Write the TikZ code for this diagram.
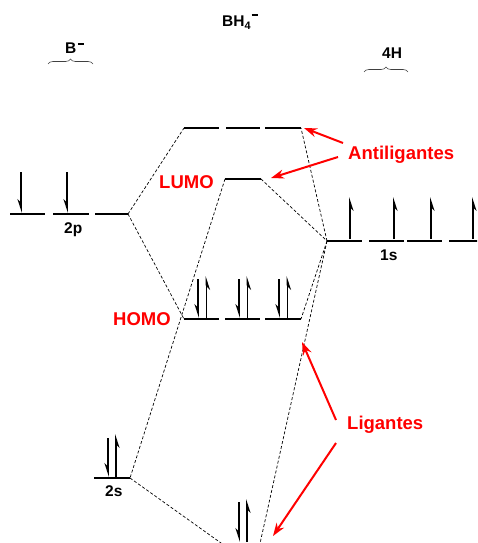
\documentclass[tikz,border=0pt]{standalone}
\usepackage{fontspec}
\setmainfont{Liberation Sans}
\usetikzlibrary{arrows.meta,decorations.pathreplacing}
\definecolor{lblred}{RGB}{255,0,0}
\newcommand{\chgminus}[1]{\raisebox{#1}{\rule{6.5pt}{1.7pt}}}
\begin{document}
\begin{tikzpicture}[x=1pt,y=-1pt,
  lvl/.style={line width=2.8pt},
  conn/.style={line width=0.7pt,dash pattern=on 3pt off 2pt},
  elec/.style={line width=1.8pt,-{Stealth[harpoon,swap,length=11pt,width=7pt]}},
  redarr/.style={lblred,line width=2pt,-{Stealth[length=13pt,width=9pt]}},
  blk/.style={font=\fontsize{15.5}{16}\selectfont\bfseries,inner sep=0pt,anchor=base west},
  redlbl/.style={font=\fontsize{18.5}{19}\selectfont\bfseries,text=lblred,inner sep=0pt,anchor=base west},
  brc/.style={decorate,decoration={brace,amplitude=5pt},line width=0.6pt,black!75}
]
\useasboundingbox (0,0) rectangle (477,543);
\clip (0,0) rectangle (477,543);

% ---- level end points
\coordinate (p1a) at (10,214);  \coordinate (p1b) at (45,214);
\coordinate (p2a) at (53,214);  \coordinate (p2b) at (89,214);
\coordinate (p3a) at (95,214);  \coordinate (p3b) at (128,214);
\coordinate (a1a) at (184,128); \coordinate (a1b) at (219,128);
\coordinate (a2a) at (226,128); \coordinate (a2b) at (260,128);
\coordinate (a3a) at (265,128); \coordinate (a3b) at (301,128);
\coordinate (la)  at (225,179); \coordinate (lb)  at (261,179);
\coordinate (s1a) at (327,241); \coordinate (s1b) at (362,241);
\coordinate (s2a) at (369,241); \coordinate (s2b) at (404,241);
\coordinate (s3a) at (407,241); \coordinate (s3b) at (442,241);
\coordinate (s4a) at (449,241); \coordinate (s4b) at (478,241);
\coordinate (h1a) at (184,319); \coordinate (h1b) at (219,319);
\coordinate (h2a) at (225,319); \coordinate (h2b) at (260,319);
\coordinate (h3a) at (265,319); \coordinate (h3b) at (301,319);
\coordinate (tsa) at (94,478);  \coordinate (tsb) at (130,478);
\coordinate (ba)  at (228,548); \coordinate (bb)  at (259,548);

% ---- dashed correlation lines
\draw[conn] (p3b) -- (a1a);
\draw[conn] (p3b) -- (h1a);
\draw[conn] (s1a) -- (a3b);
\draw[conn] (s1a) -- (h3b);
\draw[conn] (la) -- (tsb);
\draw[conn] (lb) -- (s1a);
\draw[conn] (tsb) -- (ba);
\draw[conn] (s1a) -- (bb);

% ---- levels
\foreach \a/\b in {p1a/p1b,p2a/p2b,p3a/p3b,a1a/a1b,a2a/a2b,a3a/a3b,la/lb,
                   s1a/s1b,s2a/s2b,s3a/s3b,s4a/s4b,h1a/h1b,h2a/h2b,h3a/h3b,tsa/tsb,ba/bb}
  \draw[lvl] (\a) -- (\b);

% ---- electrons
\draw[elec] (21,172) -- (21,213);
\draw[elec] (67,172) -- (67,213);
\foreach \x in {350,394,431,473} \draw[elec] (\x,239) -- (\x,197);
\foreach \x in {198,239,279} {
  \draw[elec] (\x,279) -- (\x,318);
  \draw[elec] (\x+8.5,318) -- (\x+8.5,276);
}
\draw[elec] (108,438) -- (108,477);
\draw[elec] (116,477) -- (116,434);
\draw[elec] (239,502) -- (239,542);
\draw[elec] (247,542) -- (247,499);

% ---- braces and headings
\draw[brc] (48,64) -- (93,64);
\draw[brc] (364,72) -- (408,72);
\node[blk] (bminus) at (65,53) {B\hspace{1.5pt}\chgminus{8pt}};
\node[blk] (bh4) at (222,27) {BH\textsubscript{4}\hspace{0.5pt}\chgminus{11pt}};
\node[blk] (fourh) at (382,59) {4H};

% ---- level labels
\node[blk] (l2p) at (64,233) {2p};
\node[blk] (l1s) at (380,260) {1s};
\node[blk] (l2s) at (105,496) {2s};
\node[redlbl] (lumo) at (159,188) {LUMO};
\node[redlbl] (homo) at (113,325) {HOMO};
\node[redlbl] (anti) at (348,159) {Antiligantes};
\node[redlbl] (lig) at (347,429) {Ligantes};

% ---- red pointers
\coordinate (t1) at (343,143); \coordinate (t2) at (338,157);
\coordinate (t3) at (336,420); \coordinate (t4) at (336,443);
\coordinate (k1) at (304,128); \coordinate (k2) at (271,178);
\coordinate (k3) at (302,342); \coordinate (k4) at (273,536);
\draw[redarr] (t1) -- (k1);
\draw[redarr] (t2) -- (k2);
\draw[redarr] (t3) -- (k3);
\draw[redarr] (t4) -- (k4);
\end{tikzpicture}
\end{document}
